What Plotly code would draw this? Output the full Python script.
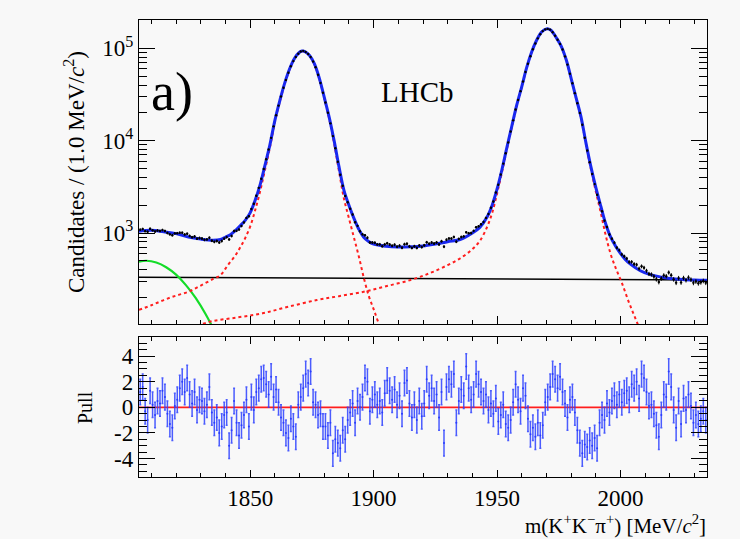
import numpy as np
import plotly.graph_objects as go

# ---------------- data ----------------
bin_low = 1805.0
bin_width = 1.0

counts = [1087, 1105, 1048, 1030, 1111, 1073, 1038, 1066, 1052, 1076,
          1052, 1001, 967, 947, 992, 996, 1007, 1006, 966, 982,
          931, 901, 919, 868, 883, 872, 843, 853, 888, 825,
          802, 819, 789, 818, 869, 903, 853, 928, 1051, 1055,
          1090, 1191, 1303, 1458, 1520, 1816, 2074, 2536, 3082, 3866,
          4935, 6277, 8011, 10716, 14275, 18851, 23942, 30011, 37367, 45472,
          54338, 63842, 72595, 80316, 87259, 92243, 93758, 91282, 86657, 80490,
          71807, 62250, 51763, 42097, 33026, 25858, 20046, 15390, 11193, 8260,
          5901, 4276, 3246, 2515, 2149, 1829, 1584, 1309, 1196, 1046,
          971, 944, 890, 789, 789, 784, 753, 754, 721, 754,
          774, 750, 728, 746, 711, 729, 693, 758, 764, 717,
          690, 719, 690, 733, 704, 736, 794, 765, 789, 770,
          792, 751, 816, 712, 845, 873, 871, 905, 805, 864,
          906, 920, 1018, 996, 999, 1055, 1155, 1182, 1242, 1318,
          1458, 1604, 1874, 2190, 2747, 3328, 4296, 5639, 7296, 9557,
          12577, 16581, 21754, 27529, 34334, 43682, 55251, 68005, 82096, 97419,
          112616, 128040, 141670, 153451, 160160, 162122, 159137, 149301, 136671, 123767,
          111559, 96873, 81686, 66543, 53018, 41823, 32648, 25451, 19881, 14855,
          10745, 7828, 5827, 4366, 3384, 2593, 2134, 1720, 1360, 1161,
          964, 866, 786, 693, 653, 587, 560, 529, 486, 487,
          461, 454, 412, 436, 421, 390, 361, 356, 338, 316,
          295, 322, 348, 341, 374, 350, 315, 290, 325, 292,
          326, 309, 330, 313, 289, 299, 286, 293, 303, 290]

pulls = [1.2, 1.6, -0.3, -1.0, 1.3, 0.2, -0.6, 0.5, 0.3, 1.3,
         0.8, -0.5, -1.3, -1.6, 0.1, 0.6, 1.5, 2.0, 1.2, 2.3,
         1.0, 0.3, 1.2, -0.2, 0.6, 0.5, -0.3, 0.2, 1.6, -0.4,
         -1.2, -0.8, -2.0, -1.5, -0.6, -0.4, -3.0, -1.8, 0.5, -1.2,
         -2.2, -1.4, -0.6, 0.6, -1.5, 0.8, -0.2, 1.2, 1.5, 2.2,
         2.3, 1.8, 1.0, 2.4, 0.8, 1.4, 0.4, -0.8, -1.2, -2.0,
         -2.4, -0.9, -1.5, -2.3, 0.2, 0.8, 1.5, 2.6, 1.9, 2.8,
         0.4, 0.2, -0.6, -0.5, -1.5, -1.5, -2.2, -1.2, -3.6, -2.5,
         -2.8, -3.2, -1.8, -2.5, -1.0, -0.4, 0.3, -1.2, 0.5, 0.0,
         0.8, 2.3, 2.0, -0.3, 0.6, 1.0, 0.2, 0.5, -0.4, 1.1,
         2.1, 1.3, 0.6, 1.4, 0.2, 0.9, -0.5, 1.9, 2.1, 0.3,
         -0.8, 0.2, -1.0, 0.5, -0.7, 0.3, 2.2, 0.9, 1.5, 0.5,
         1.0, -0.8, 1.2, -2.8, 1.6, 2.2, 1.8, 2.6, -1.2, 0.5,
         1.4, 0.9, 3.2, 1.5, 0.6, 1.0, 2.6, 1.8, 1.2, 0.5,
         1.0, -0.2, 0.3, -0.5, 0.7, -1.1, -0.6, 0.2, -1.3, -1.6,
         -1.0, 0.4, 1.8, 0.6, -0.3, 1.5, 0.9, -0.9, -2.1, -1.6,
         -2.3, -1.2, -2.2, -1.4, 0.4, 0.8, 1.6, 2.6, 2.2, 1.5,
         2.4, 1.2, 0.3, -0.8, 0.6, 0.8, -0.4, -1.8, -2.8, -3.6,
         -2.9, -3.1, -2.6, -3.0, -2.4, -3.2, -1.2, -0.6, -1.0, 0.3,
         -0.4, 0.5, 0.9, 0.2, 1.0, 0.4, 1.1, 1.3, 0.6, 1.8,
         1.5, 2.0, 0.7, 2.6, 2.3, 1.2, 0.1, 0.2, -0.5, -1.4,
         -2.3, -0.6, 1.0, 0.8, 2.8, 1.6, -0.2, -1.6, 0.5, -1.3,
         0.7, -0.2, 1.0, 0.1, -1.2, -0.6, -1.3, -0.9, -0.3, -1.0]

# total fit (blue)
fit_mass = [1805, 1810, 1815, 1820, 1825, 1830, 1835, 1838, 1840, 1842, 1844, 1846,
            1848, 1850, 1852, 1854, 1856, 1858, 1860, 1862, 1864, 1866, 1868,
            1870, 1871, 1872, 1874, 1876, 1878, 1880, 1882, 1884, 1886, 1888,
            1890, 1892, 1894, 1896, 1898, 1900, 1905, 1910, 1915, 1920, 1925,
            1930, 1935, 1940, 1943, 1946, 1948, 1950, 1952, 1954, 1956, 1958,
            1960, 1962, 1964, 1966, 1968, 1970, 1971, 1972, 1974, 1976, 1978,
            1980, 1982, 1984, 1986, 1988, 1990, 1992, 1994, 1996, 1998, 2000,
            2002, 2004, 2008, 2012, 2016, 2020, 2025, 2030, 2035]
fit_vals = [1045, 1070, 1030, 985, 905, 860, 835, 850, 900, 960, 1060, 1200,
            1370, 1650, 2250, 3300, 5400, 9000, 16500, 27000, 42000, 60000, 78000,
            90500, 93500, 92800, 84000, 68000, 47500, 29500, 18000, 10000, 5200, 2900,
            2000, 1450, 1100, 900, 810, 760, 720, 705, 710, 725, 760,
            805, 850, 1000, 1150, 1500, 2000, 3000, 4900, 8500, 14500, 24500,
            38500, 62000, 91000, 122000, 150000, 162000, 161000, 155000, 130000, 105000, 75000,
            47000, 29000, 18000, 9400, 5200, 3100, 1950, 1250, 900, 720, 600,
            515, 460, 390, 355, 335, 322, 314, 310, 308]

# combinatorial background (black)
comb_mass = [1805, 2035]
comb_vals = [332, 310]

# low-mass background (green)
low_mass = [1805, 1808, 1812, 1816, 1820, 1824, 1828, 1832, 1836, 1840, 1845]
low_vals = [490, 501, 479, 426, 354, 273, 197, 132, 82, 48, 22]

# D+ signal (red dashed)
dp_mass = [1805, 1810, 1815, 1820, 1825, 1830, 1835, 1838, 1841, 1844, 1846, 1848,
           1850, 1852, 1854, 1856, 1858, 1860, 1862, 1864, 1866, 1868, 1870, 1871,
           1872, 1874, 1876, 1878, 1880, 1882, 1884, 1886, 1888, 1890, 1892, 1894,
           1896, 1898, 1900, 1902, 1905, 1910]
dp_vals = [147, 165, 188, 210, 231, 270, 318, 350, 450, 570, 700, 880,
           1170, 1750, 2800, 4800, 8400, 15800, 26300, 41300, 59300, 77300, 89800, 92800,
           92100, 83300, 67300, 46800, 28800, 17300, 9400, 4650, 2350, 1450, 900, 560,
           330, 210, 150, 106, 65, 30]

# Ds signal (red dashed)
ds_mass = [1805, 1815, 1825, 1834, 1845, 1855, 1865, 1877, 1886, 1896, 1905, 1915,
           1923, 1930, 1935, 1940, 1943, 1946, 1948, 1950, 1952, 1954, 1956, 1958,
           1960, 1962, 1964, 1966, 1968, 1970, 1971, 1972, 1974, 1976, 1978, 1980,
           1982, 1984, 1986, 1988, 1990, 1992, 1994, 1996, 1998, 2000.6, 2003.3, 2006, 2010]
ds_vals = [70, 80, 92, 110, 122, 135, 158, 188, 207, 231, 265, 310,
           370, 450, 530, 670, 820, 1170, 1650, 2680, 4580, 8180, 14180, 24180,
           38180, 61700, 90700, 121700, 149700, 161700, 160700, 154700, 129700, 104700, 74700, 46700,
           28700, 17700, 9100, 4900, 2800, 1650, 940, 590, 420, 285, 180, 119, 65]

x_range = [1805, 2035]
x_ticks = [1850, 1900, 1950, 2000]
y_ticks = [1e3, 1e4, 1e5]
y_ticktext = ["10<sup>3</sup>", "10<sup>4</sup>", "10<sup>5</sup>"]
pull_ticks = [-4, -2, 0, 2, 4]
pull_ticktext = ["-4", "-2", "0", "2", "4"]

# ---------------- figure ----------------
centers = bin_low + bin_width * (np.arange(len(counts)) + 0.5)
counts_a = np.array(counts, dtype=float)
errs = np.sqrt(counts_a)

FONT = "Liberation Serif"
BLUE = "rgb(25,40,240)"
RED = "rgb(255,30,30)"

fig = go.Figure()

fig.add_trace(go.Scatter(x=comb_mass, y=comb_vals, mode="lines",
                         line=dict(color="black", width=1.6), xaxis="x", yaxis="y"))
fig.add_trace(go.Scatter(x=low_mass, y=low_vals, mode="lines", line_shape="spline",
                         line=dict(color="rgb(20,220,40)", width=2.2), xaxis="x", yaxis="y"))
fig.add_trace(go.Scatter(x=dp_mass, y=dp_vals, mode="lines", line_shape="spline",
                         line=dict(color=RED, width=2, dash="3px,3px"), xaxis="x", yaxis="y"))
fig.add_trace(go.Scatter(x=ds_mass, y=ds_vals, mode="lines", line_shape="spline",
                         line=dict(color=RED, width=2, dash="3px,3px"), xaxis="x", yaxis="y"))
fig.add_trace(go.Scatter(x=fit_mass, y=fit_vals, mode="lines", line_shape="spline",
                         line=dict(color=BLUE, width=3), xaxis="x", yaxis="y"))
fig.add_trace(go.Scatter(x=centers, y=counts_a, mode="markers",
                         marker=dict(color="black", size=2.4),
                         error_y=dict(type="data", array=errs, color="black", thickness=1, width=0),
                         xaxis="x", yaxis="y"))

# pull panel
fig.add_trace(go.Scatter(x=x_range, y=[0, 0], mode="lines",
                         line=dict(color=RED, width=1.6), xaxis="x2", yaxis="y2"))
fig.add_trace(go.Scatter(x=centers, y=pulls, mode="markers",
                         marker=dict(color="rgb(40,60,255)", size=2),
                         error_y=dict(type="data", array=np.ones(len(pulls)),
                                      color="rgba(45,65,255,0.85)", thickness=1.5, width=1),
                         xaxis="x2", yaxis="y2"))

axis_common = dict(showline=True, linecolor="black", linewidth=1.3, mirror="ticks",
                   ticks="inside", tickcolor="black", showgrid=False, zeroline=False,
                   tickfont=dict(family=FONT, size=23, color="black"))

minor_log = [m * 10 ** e for e in range(2, 6) for m in range(2, 10)]

fig.update_layout(
    width=740, height=539,
    margin=dict(l=139, r=33, t=20, b=62),
    paper_bgcolor="#f8f8f8", plot_bgcolor="#f8f8f8",
    showlegend=False,
    xaxis=dict(axis_common, domain=[0, 1], anchor="y", range=x_range,
               tickvals=x_ticks, showticklabels=False, ticklen=8,
               minor=dict(dtick=10, ticklen=4, ticks="inside", tickcolor="black")),
    yaxis=dict(axis_common, domain=[0.3348, 1], anchor="x", type="log",
               range=[2.015, 5.306], tickvals=y_ticks, ticktext=y_ticktext, ticklen=16,
               minor=dict(tickvals=minor_log, ticklen=8, ticks="inside", tickcolor="black")),
    xaxis2=dict(axis_common, domain=[0, 1], anchor="y2", range=x_range,
                tickvals=x_ticks, ticklen=7,
                minor=dict(dtick=10, ticklen=4, ticks="inside", tickcolor="black")),
    yaxis2=dict(axis_common, domain=[0, 0.3063], anchor="x2", range=[-5.45, 5.5],
                tickvals=pull_ticks, ticktext=pull_ticktext, ticklen=16,
                minor=dict(dtick=0.5, ticklen=8, ticks="inside", tickcolor="black")),
)

ann_font = dict(family=FONT, color="black")
ann_common = dict(xref="paper", yref="paper", showarrow=False, xanchor="center", yanchor="middle")
fig.add_annotation(text="a)", x=0.058, y=0.8425, font=dict(ann_font, size=54), **ann_common)
fig.add_annotation(text="LHCb", x=0.491, y=0.8425, font=dict(ann_font, size=29), **ann_common)
fig.add_annotation(text="Candidates / (1.0 MeV/<i>c</i><sup>2</sup>)", x=-0.1127, y=0.6674,
                   textangle=-90, font=dict(ann_font, size=23), **ann_common)
fig.add_annotation(text="Pull", x=-0.095, y=0.151, textangle=-90,
                   font=dict(ann_font, size=20), **ann_common)
fig.add_annotation(text="m(K<sup>+</sup>K<sup>\u2212</sup>\u03c0<sup>+</sup>) [MeV/<i>c</i><sup>2</sup>]",
                   x=1.0018, y=-0.105, xref="paper", yref="paper", xanchor="right",
                   yanchor="middle", showarrow=False, font=dict(ann_font, size=21))

fig.write_html("out.html")
